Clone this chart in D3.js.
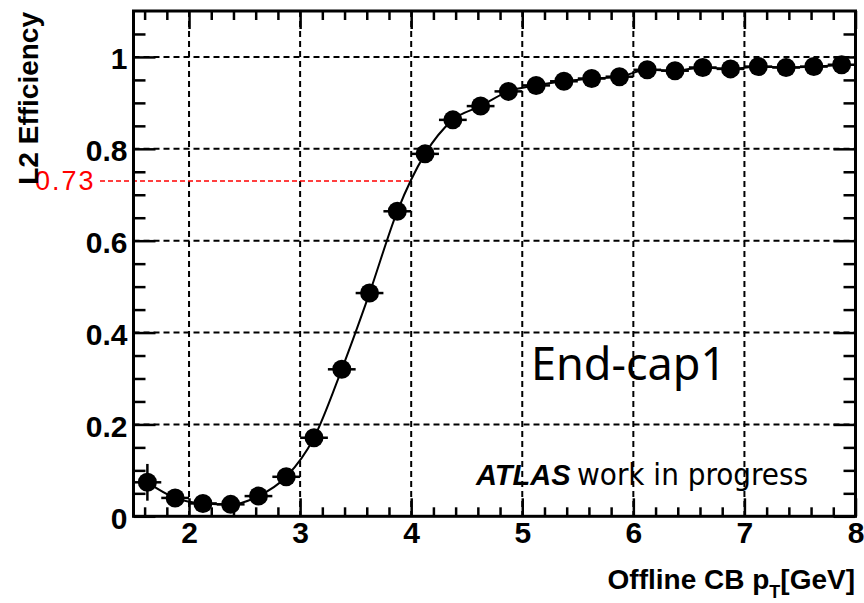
<!DOCTYPE html>
<html>
<head>
<meta charset="utf-8">
<script src="https://cdn.jsdelivr.net/npm/d3@7"></script>
<style>
  html, body { margin: 0; padding: 0; background: #fff; }
  svg { display: block; }
</style>
</head>
<body>
<svg id="chart" width="864" height="603"></svg>
<script>
// Bin centres of offline CB pT (GeV), 0.25 GeV bins
const ptCenters = [1.625, 1.875, 2.125, 2.375, 2.625, 2.875, 3.125, 3.375, 3.625, 3.875,
                   4.125, 4.375, 4.625, 4.875, 5.125, 5.375, 5.625, 5.875, 6.125, 6.375,
                   6.625, 6.875, 7.125, 7.375, 7.625, 7.875];
const ptHalfWidth = 0.125;
// L2 efficiency per bin
const efficiency = [0.074, 0.040, 0.028, 0.026, 0.044, 0.086, 0.171, 0.320, 0.486, 0.664,
                    0.789, 0.863, 0.893, 0.925, 0.938, 0.947, 0.953, 0.957, 0.972, 0.970,
                    0.977, 0.974, 0.979, 0.977, 0.979, 0.983];
// Statistical uncertainty per bin
const effError = [0.040, 0.018, 0.012, 0.010, 0.012, 0.014, 0.016, 0.018, 0.018, 0.016,
                  0.012, 0.010, 0.008, 0.007, 0.006, 0.006, 0.005, 0.005, 0.004, 0.004,
                  0.004, 0.004, 0.004, 0.004, 0.004, 0.004];
const xMajorTicks = [2, 3, 4, 5, 6, 7, 8];
const yMajorTicks = [0, 0.2, 0.4, 0.6, 0.8, 1];
const yTickLabels = ["0", "0.2", "0.4", "0.6", "0.8", "1"];
const thresholdEff = 0.73;
const thresholdPt = 4.0;
const regionLabel = "End-cap1";

const svg = d3.select("#chart");
const frameL = 133.5, frameR = 855.5, frameT = 11, frameB = 516.3;

const x = d3.scaleLinear().domain([1.5, 8]).range([frameL, frameR]);
const y = d3.scaleLinear().domain([0, 1.1]).range([frameB, frameT]);

const xMinor = d3.range(1.6, 8.001, 0.2).map(v => +v.toFixed(2))
  .filter(v => Math.abs(v - Math.round(v)) > 1e-6);
const yMinor = d3.range(0.05, 1.1, 0.05).map(v => +v.toFixed(2))
  .filter(v => Math.abs(v * 5 - Math.round(v * 5)) > 1e-6);

// Dashed grid
const grid = svg.append("g").attr("stroke", "#000").attr("stroke-width", 2)
  .attr("stroke-dasharray", "6,4").attr("fill", "none");
grid.selectAll("line.gx").data(xMajorTicks.filter(v => v < 8)).join("line")
  .attr("x1", d => x(d)).attr("x2", d => x(d)).attr("y1", frameT).attr("y2", frameB);
grid.selectAll("line.gy").data(yMajorTicks.filter(v => v > 0)).join("line")
  .attr("x1", frameL).attr("x2", frameR).attr("y1", d => y(d)).attr("y2", d => y(d));

// Axes with inward ticks
function styleAxis(g) {
  g.select(".domain").remove();
  g.selectAll(".tick line").attr("stroke", "#000").attr("stroke-width", 2.5);
}
const tickFont = "'Liberation Sans', Arial, sans-serif";

svg.append("g").attr("transform", `translate(0,${frameB})`)
  .call(d3.axisBottom(x).tickValues(xMajorTicks).tickSize(-18).tickPadding(7).tickFormat(d3.format("d")))
  .call(styleAxis)
  .call(g => g.selectAll("text").attr("font-family", tickFont).attr("font-size", 30)
    .attr("font-weight", "bold").attr("fill", "#000").attr("dy", "0.74em").attr("y", 5));
svg.append("g").attr("transform", `translate(0,${frameB})`)
  .call(d3.axisBottom(x).tickValues(xMinor).tickSize(-9).tickFormat(""))
  .call(styleAxis);
svg.append("g").attr("transform", `translate(0,${frameT})`)
  .call(d3.axisTop(x).tickValues(xMajorTicks).tickSize(-18).tickFormat(""))
  .call(styleAxis);
svg.append("g").attr("transform", `translate(0,${frameT})`)
  .call(d3.axisTop(x).tickValues(xMinor).tickSize(-9).tickFormat(""))
  .call(styleAxis);

svg.append("g").attr("transform", `translate(${frameL},0)`)
  .call(d3.axisLeft(y).tickValues(yMajorTicks).tickSize(-22).tickPadding(6)
    .tickFormat((d, i) => yTickLabels[i]))
  .call(styleAxis)
  .call(g => g.selectAll("text").attr("font-family", tickFont).attr("font-size", 30)
    .attr("font-weight", "bold").attr("fill", "#000").attr("x", -6).attr("dy", "0.4em"));
svg.append("g").attr("transform", `translate(${frameL},0)`)
  .call(d3.axisLeft(y).tickValues(yMinor).tickSize(-12).tickFormat(""))
  .call(styleAxis);
svg.append("g").attr("transform", `translate(${frameR},0)`)
  .call(d3.axisRight(y).tickValues(yMajorTicks).tickSize(-22).tickFormat(""))
  .call(styleAxis);
svg.append("g").attr("transform", `translate(${frameR},0)`)
  .call(d3.axisRight(y).tickValues(yMinor).tickSize(-12).tickFormat(""))
  .call(styleAxis);

// Threshold marker
svg.append("line")
  .attr("x1", 100).attr("x2", x(thresholdPt))
  .attr("y1", y(thresholdEff)).attr("y2", y(thresholdEff))
  .attr("stroke", "#ff0000").attr("stroke-width", 1.5).attr("stroke-dasharray", "5,3");
svg.append("text")
  .attr("x", 35).attr("y", y(thresholdEff) + 9)
  .attr("font-family", tickFont).attr("font-size", 27).attr("letter-spacing", 2)
  .attr("fill", "#ff0000").text(thresholdEff.toFixed(2));

// Data
const pts = ptCenters.map((c, i) => ({ x: c, y: efficiency[i], e: effError[i] }));

svg.append("path").datum(pts)
  .attr("fill", "none").attr("stroke", "#000").attr("stroke-width", 2)
  .attr("d", d3.line().x(d => x(d.x)).y(d => y(d.y)).curve(d3.curveMonotoneX));

const marks = svg.append("g").attr("stroke", "#000").attr("stroke-width", 2.5);
marks.selectAll("line.h").data(pts).join("line")
  .attr("x1", d => Math.max(frameL, x(d.x - ptHalfWidth))).attr("x2", d => x(d.x + ptHalfWidth))
  .attr("y1", d => y(d.y)).attr("y2", d => y(d.y));
marks.selectAll("line.v").data(pts).join("line")
  .attr("x1", d => x(d.x)).attr("x2", d => x(d.x))
  .attr("y1", d => y(d.y - d.e)).attr("y2", d => y(d.y + d.e));
svg.append("g").selectAll("circle").data(pts).join("circle")
  .attr("cx", d => x(d.x)).attr("cy", d => y(d.y)).attr("r", 9.5).attr("fill", "#000");

// Frame
svg.append("rect").attr("x", frameL).attr("y", frameT)
  .attr("width", frameR - frameL).attr("height", frameB - frameT)
  .attr("fill", "none").attr("stroke", "#000").attr("stroke-width", 3);

// Axis titles
const xt = svg.append("text").attr("x", 855).attr("y", 589).attr("text-anchor", "end")
  .attr("font-family", tickFont).attr("font-size", 28).attr("font-weight", "bold").attr("fill", "#000");
xt.append("tspan").text("Offline CB p");
xt.append("tspan").attr("font-size", 18).attr("dy", 9).text("T");
xt.append("tspan").attr("dy", -9).text("[GeV]");

svg.append("text")
  .attr("transform", "translate(37.5,12) rotate(-90)")
  .attr("text-anchor", "end")
  .attr("font-family", tickFont).attr("font-size", 28).attr("font-weight", "bold").attr("fill", "#000")
  .text("L2 Efficiency");

// Annotations
svg.append("text").attr("x", 531).attr("y", 380)
  .attr("font-family", "'Noto Sans', 'Open Sans', sans-serif").attr("font-size", 45).attr("fill", "#000")
  .text(regionLabel);

svg.append("text").attr("x", 476).attr("y", 485)
  .attr("font-family", tickFont).attr("font-size", 29).attr("font-weight", "bold")
  .attr("font-style", "italic").attr("fill", "#000").text("ATLAS");
svg.append("text").attr("x", 577).attr("y", 485)
  .attr("font-family", "'Liberation Sans Narrow', 'DejaVu Sans Condensed', sans-serif")
  .attr("font-size", 30).attr("fill", "#000")
  .attr("textLength", 231).attr("lengthAdjust", "spacingAndGlyphs")
  .text("work in progress");
</script>
</body>
</html>
